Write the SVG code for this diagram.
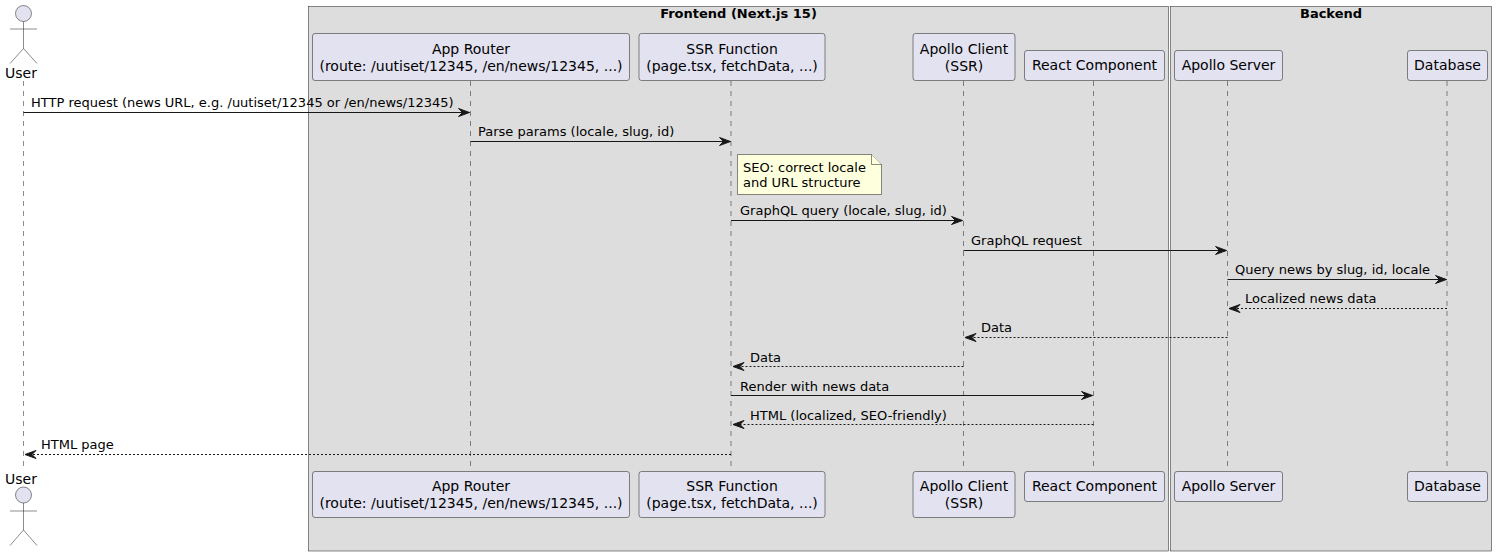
<svg xmlns="http://www.w3.org/2000/svg" width="1496" height="556" viewBox="0 0 1496 556">
<style>
text{font-family:"DejaVu Sans",sans-serif;fill:#000}
.box{fill:#DDDDDD;stroke:#181818;stroke-width:.5}
.title{font-size:13px;font-weight:bold;text-anchor:middle}
.p{fill:#E2E2F0;stroke:#181818;stroke-width:.5}
.pt{font-size:14px;text-anchor:middle}
.life{stroke:#181818;stroke-width:.5;stroke-dasharray:5 5;fill:none}
.m{stroke:#181818;stroke-width:1;fill:none}
.d{stroke-dasharray:2 2}
.h{fill:#181818;stroke:#181818;stroke-width:1}
.mt{font-size:13px}
.a{fill:none;stroke:#181818;stroke-width:.5}
.c{fill:#E2E2F0;stroke:#181818;stroke-width:.5}
.n{fill:#FEFFDD;stroke:#181818;stroke-width:.5}
</style>
<defs>
<marker id="r" markerUnits="userSpaceOnUse" markerWidth="14" markerHeight="12" refX="12" refY="6" orient="auto" overflow="visible"><path class="h" d="M1 2L12 6L1 10L5 6Z"/></marker>
</defs>
<g id="box-frontend"><rect class="box" x="308.5" y="6.5" width="860" height="544.5"/><text class="title" x="738.5" y="18">Frontend (Next.js 15)</text></g>
<g id="box-backend"><rect class="box" x="1170.5" y="6.5" width="321" height="544.5"/><text class="title" x="1331" y="18">Backend</text></g>
<g id="lifelines">
<line class="life" x1="23.5" y1="81" x2="23.5" y2="471"/>
<line class="life" x1="470.5" y1="81" x2="470.5" y2="471"/>
<line class="life" x1="731" y1="81" x2="731" y2="471"/>
<line class="life" x1="963.5" y1="81" x2="963.5" y2="471"/>
<line class="life" x1="1093.5" y1="81" x2="1093.5" y2="471"/>
<line class="life" x1="1227.5" y1="81" x2="1227.5" y2="471"/>
<line class="life" x1="1447" y1="81" x2="1447" y2="471"/>
</g>
<g id="user-top"><circle class="c" cx="23.5" cy="13.5" r="8"/><path class="a" d="M23.5 21.5V48.5M10 29H37M10 63.5L23.5 48.5L37 63.5"/><text class="pt" x="21" y="78">User</text></g>
<g id="user-bottom"><text class="pt" x="21" y="484">User</text><circle class="c" cx="23.5" cy="495" r="8"/><path class="a" d="M23.5 503V530M10 511H37M10 545.5L23.5 530L37 545.5"/></g>
<g id="app-router-top"><rect class="p" x="312.5" y="33.5" width="317" height="47" rx="2.5"/><text class="pt" x="471" y="54">App Router</text><text class="pt" x="471" y="71">(route: /uutiset/12345, /en/news/12345, ...)</text></g>
<g id="ssr-top"><rect class="p" x="639" y="33.5" width="186" height="47" rx="2.5"/><text class="pt" x="732" y="54">SSR Function</text><text class="pt" x="732" y="71">(page.tsx, fetchData, ...)</text></g>
<g id="apollo-client-top"><rect class="p" x="913" y="33.5" width="102" height="47" rx="2.5"/><text class="pt" x="964" y="54">Apollo Client</text><text class="pt" x="964" y="71">(SSR)</text></g>
<g id="react-top"><rect class="p" x="1024.5" y="50.5" width="140" height="30" rx="2.5"/><text class="pt" x="1094.5" y="70">React Component</text></g>
<g id="apollo-server-top"><rect class="p" x="1174.5" y="50.5" width="108" height="30" rx="2.5"/><text class="pt" x="1228.5" y="70">Apollo Server</text></g>
<g id="database-top"><rect class="p" x="1407.5" y="50.5" width="80" height="30" rx="2.5"/><text class="pt" x="1447.5" y="70">Database</text></g>
<g id="app-router-bottom"><rect class="p" x="312.5" y="471.5" width="317" height="46" rx="2.5"/><text class="pt" x="471" y="491">App Router</text><text class="pt" x="471" y="508">(route: /uutiset/12345, /en/news/12345, ...)</text></g>
<g id="ssr-bottom"><rect class="p" x="639" y="471.5" width="186" height="46" rx="2.5"/><text class="pt" x="732" y="491">SSR Function</text><text class="pt" x="732" y="508">(page.tsx, fetchData, ...)</text></g>
<g id="apollo-client-bottom"><rect class="p" x="913" y="471.5" width="102" height="46" rx="2.5"/><text class="pt" x="964" y="491">Apollo Client</text><text class="pt" x="964" y="508">(SSR)</text></g>
<g id="react-bottom"><rect class="p" x="1024.5" y="471.5" width="140" height="30" rx="2.5"/><text class="pt" x="1094.5" y="491">React Component</text></g>
<g id="apollo-server-bottom"><rect class="p" x="1174.5" y="471.5" width="108" height="30" rx="2.5"/><text class="pt" x="1228.5" y="491">Apollo Server</text></g>
<g id="database-bottom"><rect class="p" x="1407.5" y="471.5" width="80" height="30" rx="2.5"/><text class="pt" x="1447.5" y="491">Database</text></g>
<g id="note-seo"><path class="n" d="M737.5 154.5H871.5L881.5 164.5V194.5H737.5Z"/><path class="n" d="M871.5 154.5V164.5H881.5"/><text class="mt" x="743" y="172">SEO: correct locale</text><text class="mt" x="743" y="187">and URL structure</text></g>
<g id="connectors">
<line class="m" x1="23.5" y1="112.5" x2="469.5" y2="112.5" marker-end="url(#r)"/>
<line class="m" x1="470.5" y1="141.5" x2="730.5" y2="141.5" marker-end="url(#r)"/>
<line class="m" x1="731" y1="220.5" x2="962.5" y2="220.5" marker-end="url(#r)"/>
<line class="m" x1="963.5" y1="250.5" x2="1226.5" y2="250.5" marker-end="url(#r)"/>
<line class="m" x1="1227.5" y1="279.5" x2="1446.5" y2="279.5" marker-end="url(#r)"/>
<line class="m d" x1="1447" y1="308.5" x2="1229" y2="308.5" marker-end="url(#r)"/>
<line class="m d" x1="1227.5" y1="337.5" x2="965" y2="337.5" marker-end="url(#r)"/>
<line class="m d" x1="963.5" y1="366.5" x2="733" y2="366.5" marker-end="url(#r)"/>
<line class="m" x1="731" y1="395.5" x2="1092.5" y2="395.5" marker-end="url(#r)"/>
<line class="m d" x1="1093.5" y1="424.5" x2="733" y2="424.5" marker-end="url(#r)"/>
<line class="m d" x1="731" y1="454.5" x2="25" y2="454.5" marker-end="url(#r)"/>
</g>
<g id="connector-labels">
<text class="mt" x="31" y="107">HTTP request (news URL, e.g. /uutiset/12345 or /en/news/12345)</text>
<text class="mt" x="478" y="136">Parse params (locale, slug, id)</text>
<text class="mt" x="740" y="215">GraphQL query (locale, slug, id)</text>
<text class="mt" x="971" y="245">GraphQL request</text>
<text class="mt" x="1235" y="274">Query news by slug, id, locale</text>
<text class="mt" x="1245" y="303">Localized news data</text>
<text class="mt" x="981" y="332">Data</text>
<text class="mt" x="750" y="362">Data</text>
<text class="mt" x="740" y="391">Render with news data</text>
<text class="mt" x="750" y="420">HTML (localized, SEO-friendly)</text>
<text class="mt" x="41" y="449">HTML page</text>
</g>
</svg>
